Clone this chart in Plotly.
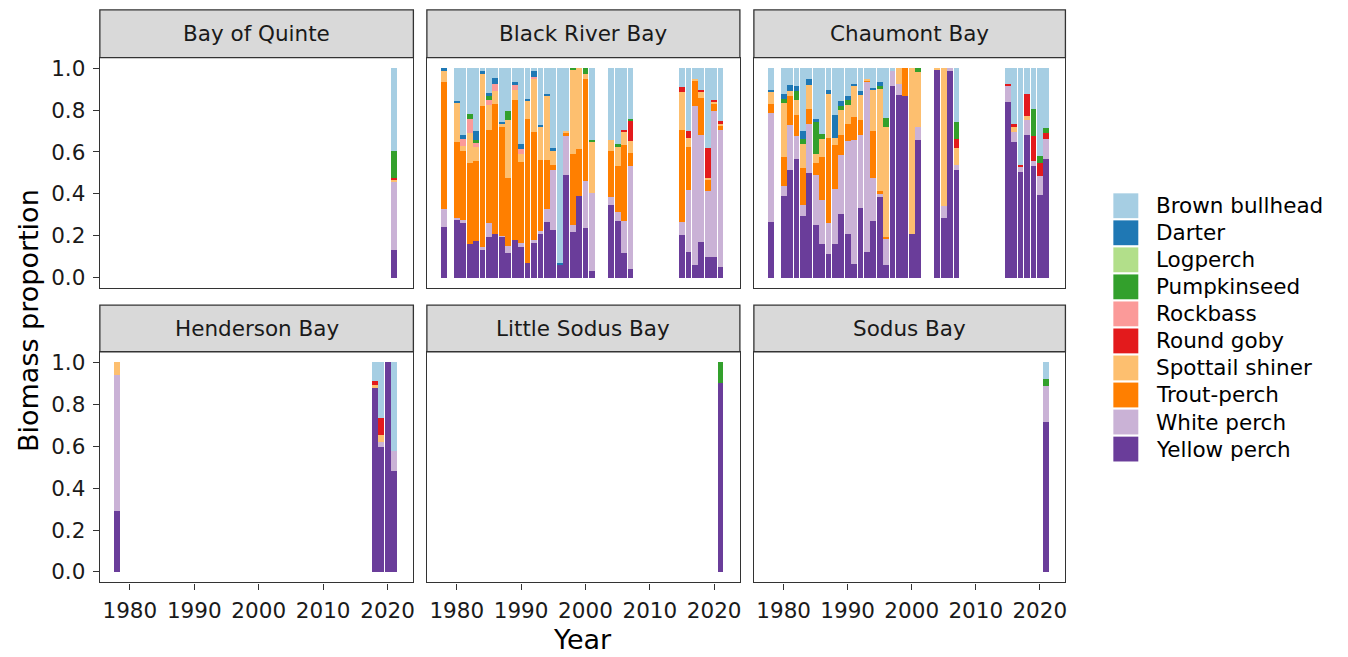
import plotly.graph_objects as go
from plotly.subplots import make_subplots

W, H = 1348, 657

species = ["Brown bullhead", "Darter", "Logperch", "Pumpkinseed", "Rockbass",
           "Round goby", "Spottail shiner", "Trout-perch", "White perch", "Yellow perch"]
species_colors = ["#A6CEE3", "#1F78B4", "#B2DF8A", "#33A02C", "#FB9A99",
                  "#E31A1C", "#FDBF6F", "#FF7F00", "#CAB2D6", "#6A3D9A"]

bays = ["Bay of Quinte", "Black River Bay", "Chaumont Bay",
        "Henderson Bay", "Little Sodus Bay", "Sodus Bay"]

x_ticks = [1980, 1990, 2000, 2010, 2020]
y_ticks = [0.0, 0.2, 0.4, 0.6, 0.8, 1.0]

# Biomass proportions; each row follows the order of `species`
quinte_years = [2021]
quinte_rows = [
    [0.397, 0, 0, 0.127, 0, 0.005, 0.008, 0, 0.329, 0.134],
]

black_river_years = [1978, 1980, 1981, 1982, 1983, 1984, 1985, 1986, 1987, 1988,
                     1989, 1990, 1991, 1992, 1993, 1994, 1995, 1996, 1997, 1998,
                     1999, 2000, 2001, 2004, 2005, 2006, 2007,
                     2015, 2016, 2017, 2018, 2019, 2020, 2021]
black_river_rows = [
    [0.0, 0.008, 0, 0, 0, 0, 0.060, 0.602, 0.087, 0.243],
    [0.156, 0.010, 0, 0, 0, 0, 0.189, 0.360, 0.008, 0.278],
    [0.320, 0.017, 0, 0, 0.035, 0, 0.024, 0.329, 0.008, 0.267],
    [0.217, 0, 0, 0.024, 0.068, 0, 0.144, 0.383, 0, 0.163],
    [0.300, 0.040, 0, 0.016, 0.020, 0, 0.067, 0.381, 0, 0.175],
    [0.013, 0.014, 0, 0, 0, 0, 0.152, 0.675, 0.008, 0.138],
    [0.119, 0.016, 0, 0.016, 0.024, 0, 0.119, 0.444, 0.067, 0.195],
    [0.048, 0.029, 0, 0, 0.035, 0, 0.059, 0.619, 0, 0.211],
    [0.257, 0.010, 0, 0, 0, 0, 0.016, 0.516, 0.003, 0.198],
    [0.206, 0, 0, 0.040, 0, 0, 0.278, 0.325, 0.032, 0.119],
    [0.067, 0.016, 0, 0, 0.024, 0, 0.048, 0.668, 0, 0.178],
    [0.362, 0.022, 0, 0, 0.025, 0, 0.040, 0.384, 0.021, 0.146],
    [0.146, 0.013, 0, 0, 0, 0, 0.084, 0.686, 0, 0.071],
    [0.016, 0.024, 0, 0, 0.011, 0, 0.254, 0.517, 0.008, 0.170],
    [0.270, 0.011, 0, 0, 0, 0, 0.156, 0.341, 0.008, 0.214],
    [0.122, 0.008, 0, 0, 0, 0, 0.306, 0.235, 0.062, 0.267],
    [0.384, 0.013, 0, 0, 0, 0, 0.067, 0.021, 0.289, 0.227],
    [0.929, 0.008, 0, 0, 0, 0, 0, 0, 0, 0.063],
    [0.298, 0, 0, 0, 0, 0, 0.006, 0.021, 0.183, 0.492],
    [0, 0, 0, 0.011, 0, 0, 0.398, 0.340, 0.032, 0.219],
    [0, 0, 0, 0, 0, 0, 0.384, 0.227, 0, 0.389],
    [0, 0, 0, 0.029, 0, 0, 0.022, 0.486, 0.225, 0.238],
    [0.341, 0, 0, 0.008, 0, 0, 0.246, 0, 0.373, 0.032],
    [0.341, 0, 0, 0, 0, 0, 0.056, 0.219, 0.035, 0.349],
    [0.362, 0, 0, 0.008, 0, 0, 0.098, 0.217, 0.044, 0.270],
    [0.294, 0, 0, 0, 0, 0.011, 0.060, 0.365, 0.154, 0.116],
    [0.243, 0, 0, 0.011, 0, 0.092, 0.059, 0.063, 0.489, 0.043],
    [0.092, 0, 0, 0, 0, 0.024, 0.178, 0.440, 0.060, 0.206],
    [0.302, 0, 0, 0, 0, 0.032, 0.040, 0.206, 0.298, 0.122],
    [0.051, 0, 0, 0, 0, 0, 0.005, 0.127, 0.754, 0.063],
    [0.103, 0, 0, 0, 0, 0.011, 0.029, 0.178, 0.510, 0.170],
    [0.381, 0, 0, 0, 0, 0.143, 0.007, 0.056, 0.313, 0.100],
    [0.154, 0, 0, 0, 0, 0.010, 0.006, 0.037, 0.694, 0.100],
    [0.254, 0, 0, 0, 0, 0.008, 0.008, 0.027, 0.651, 0.052],
]

chaumont_years = [1978, 1980, 1981, 1982, 1983, 1984, 1985, 1986, 1987, 1988,
                  1989, 1990, 1991, 1992, 1993, 1994, 1995, 1996, 1997, 1998,
                  1999, 2000, 2001, 2004, 2005, 2006, 2007,
                  2015, 2016, 2017, 2018, 2019, 2020, 2021]
chaumont_rows = [
    [0.103, 0.008, 0, 0, 0, 0, 0.059, 0.044, 0.520, 0.265],
    [0.124, 0.022, 0, 0.021, 0, 0, 0.259, 0.135, 0.051, 0.389],
    [0.079, 0.029, 0, 0, 0, 0, 0.024, 0.138, 0.214, 0.516],
    [0.087, 0.024, 0, 0.043, 0, 0, 0.068, 0.103, 0.108, 0.567],
    [0.298, 0.040, 0, 0.024, 0, 0, 0.114, 0.175, 0.052, 0.297],
    [0.052, 0.030, 0, 0, 0, 0, 0.113, 0.070, 0.235, 0.500],
    [0.241, 0.016, 0, 0.152, 0, 0, 0.043, 0.059, 0.235, 0.254],
    [0.314, 0, 0, 0.022, 0, 0, 0.089, 0.202, 0.214, 0.159],
    [0.106, 0.016, 0, 0, 0, 0, 0.211, 0.408, 0.148, 0.111],
    [0.222, 0.111, 0, 0, 0, 0, 0.035, 0.208, 0.265, 0.159],
    [0.159, 0.021, 0, 0.019, 0, 0, 0.122, 0.092, 0.286, 0.302],
    [0.135, 0.016, 0, 0.024, 0, 0, 0.090, 0.084, 0.441, 0.210],
    [0.076, 0.006, 0, 0, 0, 0, 0.151, 0.108, 0.590, 0.068],
    [0.111, 0.016, 0, 0, 0, 0, 0.119, 0.075, 0.346, 0.333],
    [0.051, 0, 0, 0, 0, 0, 0.006, 0.010, 0.810, 0.124],
    [0.092, 0.011, 0, 0, 0, 0, 0.198, 0.222, 0.203, 0.273],
    [0.067, 0.021, 0, 0.011, 0, 0, 0.489, 0.008, 0.021, 0.384],
    [0.238, 0, 0, 0.044, 0, 0, 0.522, 0.005, 0.127, 0.063],
    [0.016, 0, 0, 0, 0, 0, 0, 0, 0.071, 0.913],
    [0, 0, 0, 0, 0, 0, 0.076, 0, 0.054, 0.870],
    [0, 0, 0, 0, 0, 0, 0, 0.135, 0, 0.865],
    [0, 0, 0, 0, 0, 0, 0.789, 0, 0, 0.211],
    [0, 0, 0, 0.019, 0, 0, 0.263, 0, 0.059, 0.659],
    [0, 0, 0, 0, 0, 0, 0.005, 0, 0, 0.995],
    [0, 0, 0, 0, 0, 0, 0.659, 0, 0.056, 0.285],
    [0, 0, 0, 0, 0, 0, 0, 0, 0.013, 0.987],
    [0.257, 0, 0, 0.081, 0, 0.043, 0.079, 0, 0.027, 0.513],
    [0.076, 0, 0, 0, 0, 0.011, 0, 0, 0.075, 0.838],
    [0.267, 0, 0, 0, 0, 0.014, 0.024, 0, 0.047, 0.648],
    [0.463, 0, 0, 0, 0, 0.005, 0, 0, 0.027, 0.505],
    [0.124, 0, 0, 0, 0, 0.102, 0.021, 0, 0.070, 0.683],
    [0.193, 0, 0, 0.132, 0, 0.119, 0, 0, 0.024, 0.532],
    [0.418, 0, 0, 0.035, 0, 0.060, 0, 0, 0.090, 0.397],
    [0.286, 0, 0, 0.024, 0, 0.027, 0, 0, 0.095, 0.568],
]

henderson_years = [1978, 2018, 2019, 2020, 2021]
henderson_rows = [
    [0, 0, 0, 0, 0, 0, 0.062, 0, 0.648, 0.290],
    [0.087, 0, 0, 0, 0, 0.019, 0.017, 0, 0, 0.877],
    [0.265, 0, 0, 0, 0, 0.084, 0.032, 0, 0.024, 0.595],
    [0, 0, 0, 0, 0, 0, 0, 0, 0, 1.000],
    [0.424, 0, 0, 0, 0, 0, 0, 0, 0.092, 0.484],
]

little_sodus_years = [2021]
little_sodus_rows = [
    [0, 0, 0, 0.100, 0, 0, 0, 0, 0, 0.900],
]

sodus_years = [2021]
sodus_rows = [
    [0.079, 0, 0, 0.035, 0, 0, 0, 0, 0.172, 0.714],
]

bay_data = [
    (quinte_years, quinte_rows),
    (black_river_years, black_river_rows),
    (chaumont_years, chaumont_rows),
    (henderson_years, henderson_rows),
    (little_sodus_years, little_sodus_rows),
    (sodus_years, sodus_rows),
]

# ---------------- layout geometry (pixels) ----------------
FONT = "DejaVu Sans"
SMALL = 21.5
BIG = 27
BORDER = "#333333"

col_px = [(100, 414), (427.5, 741), (755, 1067)]
row_plot_px = [(56, 288), (352, 584)]
row_strip_px = [(8, 56), (305, 352)]


def fx(px):
    return px / W


def fy(py):
    return 1 - py / H


fig = make_subplots(rows=2, cols=3)

for b, (years, rows) in enumerate(bay_data):
    r, c = divmod(b, 3)
    # stack from bottom (Yellow perch) to top (Brown bullhead)
    for s in reversed(range(len(species))):
        vals = [row[s] for row in rows]
        fig.add_trace(
            go.Bar(x=years, y=vals, name=species[s], width=0.9,
                   marker=dict(color=species_colors[s], line=dict(width=0)),
                   showlegend=False,
                   hovertemplate=f"{bays[b]}<br>{species[s]}<br>%{{x}}: %{{y:.3f}}<extra></extra>"),
            row=r + 1, col=c + 1)

fig.update_layout(
    barmode="stack",
    width=W, height=H, autosize=False,
    margin=dict(l=0, r=0, t=0, b=0),
    plot_bgcolor="white", paper_bgcolor="white",
    font=dict(family=FONT, size=SMALL, color="#1a1a1a"),
)

for b in range(6):
    r, c = divmod(b, 3)
    xd = [fx(col_px[c][0]), fx(col_px[c][1])]
    yd = [fy(row_plot_px[r][1]), fy(row_plot_px[r][0])]
    fig.update_xaxes(
        domain=xd, range=[1975.35, 2024.0],
        tickvals=x_ticks, showticklabels=(r == 1), ticks="outside" if r == 1 else "",
        ticklen=6, tickwidth=1.3, tickcolor=BORDER, ticklabelstandoff=3,
        tickfont=dict(size=SMALL, color="#1a1a1a", family=FONT),
        showline=True, mirror=True, linecolor=BORDER, linewidth=1.3,
        showgrid=False, zeroline=False,
        row=r + 1, col=c + 1)
    fig.update_yaxes(
        domain=yd, range=[-0.05, 1.05],
        tickvals=y_ticks, tickformat=".1f",
        showticklabels=(c == 0), ticks="outside" if c == 0 else "",
        ticklen=6, tickwidth=1.3, tickcolor=BORDER, ticklabelstandoff=3,
        tickfont=dict(size=SMALL, color="#1a1a1a", family=FONT),
        showline=True, mirror=True, linecolor=BORDER, linewidth=1.3,
        showgrid=False, zeroline=False,
        row=r + 1, col=c + 1)

shapes = []
annotations = []

# facet strips
for b, name in enumerate(bays):
    r, c = divmod(b, 3)
    x0, x1 = col_px[c]
    y0, y1 = row_strip_px[r]
    shapes.append(dict(type="rect", xref="paper", yref="paper",
                       x0=fx(x0), x1=fx(x1), y0=fy(y1), y1=fy(y0),
                       fillcolor="#D9D9D9", line=dict(color=BORDER, width=1.3),
                       layer="below"))
    annotations.append(dict(text=name, xref="paper", yref="paper",
                            x=fx((x0 + x1) / 2), y=fy((y0 + y1) / 2),
                            xanchor="center", yanchor="middle", showarrow=False,
                            font=dict(size=SMALL, color="#1a1a1a", family=FONT)))

# axis titles
annotations.append(dict(text="Year", xref="paper", yref="paper",
                        x=fx((col_px[0][0] + col_px[2][1]) / 2), y=fy(641),
                        xanchor="center", yanchor="middle", showarrow=False,
                        font=dict(size=BIG, color="black", family=FONT)))
annotations.append(dict(text="Biomass proportion", xref="paper", yref="paper",
                        x=fx(28), y=fy((row_plot_px[0][0] + row_plot_px[1][1]) / 2),
                        xanchor="center", yanchor="middle", showarrow=False,
                        textangle=-90,
                        font=dict(size=BIG, color="black", family=FONT)))

# legend (keys + labels)
leg_x0, key = 1115, 25
leg_y0, step = 205, 27.2
for i, (name, colr) in enumerate(zip(species, species_colors)):
    cy = leg_y0 + i * step
    shapes.append(dict(type="rect", xref="paper", yref="paper",
                       x0=fx(leg_x0), x1=fx(leg_x0 + key),
                       y0=fy(cy + key / 2), y1=fy(cy - key / 2),
                       fillcolor=colr, line=dict(width=0)))
    annotations.append(dict(text=name, xref="paper", yref="paper",
                            x=fx(1156), y=fy(cy), xanchor="left", yanchor="middle",
                            showarrow=False,
                            font=dict(size=SMALL, color="black", family=FONT)))

fig.update_layout(shapes=shapes, annotations=annotations)

fig.write_html("out.html")
